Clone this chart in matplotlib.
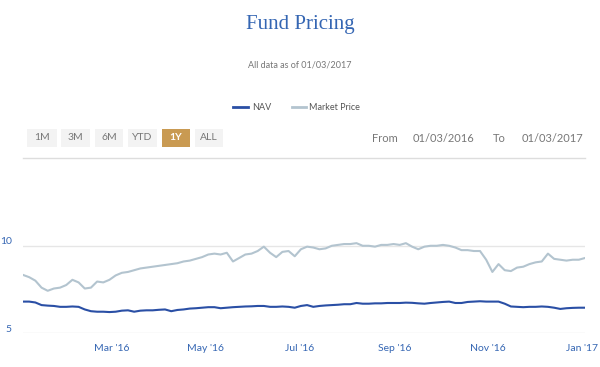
import pandas as pd
import matplotlib.pyplot as plt
import matplotlib.dates as mdates
from matplotlib.patches import Rectangle
from matplotlib.transforms import ScaledTranslation

# Prices, roughly every 4 days from 03/01/2016 to 03/01/2017
market_price = [8.33, 8.2, 8.0, 7.6, 7.42, 7.55, 7.6, 7.75, 8.05, 7.9,
                7.55, 7.6, 7.95, 7.9, 8.05, 8.3, 8.45, 8.5, 8.6, 8.7,
                8.75, 8.8, 8.85, 8.9, 8.95, 9.0, 9.1, 9.15, 9.25, 9.35,
                9.5, 9.55, 9.5, 9.6, 9.1, 9.3, 9.5, 9.55, 9.7, 9.95,
                9.6, 9.35, 9.65, 9.7, 9.4, 9.8, 9.95, 9.9, 9.8, 9.85,
                10.0, 10.05, 10.1, 10.1, 10.15, 10.0, 10.0, 9.95, 10.05, 10.05,
                10.1, 10.05, 10.15, 9.95, 9.8, 9.95, 10.0, 10.0, 10.05, 10.0,
                9.9, 9.75, 9.75, 9.7, 9.7, 9.2, 8.5, 8.95, 8.6, 8.55,
                8.75, 8.8, 8.95, 9.05, 9.1, 9.55, 9.25, 9.2, 9.15, 9.2,
                9.2, 9.3]
nav = [6.8, 6.8, 6.75, 6.6, 6.57, 6.55, 6.5, 6.5, 6.52, 6.5,
       6.35, 6.25, 6.22, 6.22, 6.2, 6.22, 6.28, 6.3, 6.22, 6.28,
       6.3, 6.3, 6.33, 6.35, 6.25, 6.32, 6.35, 6.4, 6.42, 6.45,
       6.48, 6.48, 6.42, 6.45, 6.48, 6.5, 6.52, 6.53, 6.55, 6.55,
       6.5, 6.5, 6.52, 6.5, 6.45, 6.55, 6.6, 6.5, 6.55, 6.58,
       6.6, 6.62, 6.65, 6.65, 6.72, 6.68, 6.68, 6.7, 6.7, 6.72,
       6.72, 6.72, 6.74, 6.73, 6.7, 6.68, 6.72, 6.75, 6.78, 6.8,
       6.72, 6.72, 6.78, 6.8, 6.82, 6.8, 6.8, 6.8, 6.68, 6.52,
       6.5, 6.48, 6.5, 6.5, 6.52, 6.5, 6.45, 6.38, 6.42, 6.44,
       6.45, 6.45]
dates = pd.date_range("2016-01-03", "2017-01-03", periods=len(nav))

buttons = ["1M", "3M", "6M", "YTD", "1Y", "ALL"]
active_button = "1Y"

nav_color = "#2a4fa5"
mp_color = "#b3c4cf"
blue_text = "#3566b3"
gray_text = "#777777"

fig = plt.figure(figsize=(6, 3.67), dpi=100)
W, H = 600, 367

def fx(px):
    return px / W

def fy(py):
    return 1 - py / H

# header
fig.text(0.5, fy(24), "Fund Pricing", ha="center", va="center",
         family="Liberation Serif", fontsize=15, color=blue_text)
fig.text(0.5, fy(65), "All data as of 01/03/2017", ha="center", va="center",
         family="Lato", fontsize=6.5, color=gray_text)

# legend
fig.add_artist(plt.Line2D([fx(233), fx(248)], [fy(107), fy(107)], color=nav_color, lw=2))
fig.text(fx(252), fy(107), "NAV", ha="left", va="center", family="Lato", fontsize=6.5, color="#555555")
fig.add_artist(plt.Line2D([fx(292), fx(306)], [fy(107), fy(107)], color=mp_color, lw=2))
fig.text(fx(309), fy(107), "Market Price", ha="left", va="center", family="Lato", fontsize=6.5, color="#555555")

# range selector buttons
btn_x = [27, 61, 95, 128, 162, 195]
btn_w = [30, 29, 28, 29, 28, 28]
for label, bx, bw in zip(buttons, btn_x, btn_w):
    active = label == active_button
    fig.add_artist(Rectangle((fx(bx), fy(147)), fx(bw), (147 - 129) / H,
                             transform=fig.transFigure,
                             facecolor="#c99a52" if active else "#f3f3f3",
                             edgecolor="none"))
    fig.text(fx(bx + bw / 2), fy(138), label, ha="center", va="center",
             family="Lato", fontsize=7.5, fontweight="bold" if active else "normal",
             color="white" if active else "#777777")

for txt, x0 in [("From", 372), ("01/03/2016", 413), ("To", 493), ("01/03/2017", 522)]:
    fig.text(fx(x0), fy(138), txt, ha="left", va="center", family="Lato",
             fontsize=8, color="#777777")

fig.add_artist(plt.Line2D([fx(23), fx(585)], [fy(158), fy(158)], color="#dddddd", lw=1))

# chart
ax = fig.add_axes([fx(23), fy(333), fx(585 - 23), (333 - 176) / H])
ax.plot(dates, market_price, color=mp_color, lw=1.5, zorder=3)
ax.plot(dates, nav, color=nav_color, lw=1.5, zorder=3)

ax.set_xlim(pd.Timestamp("2016-01-03"), pd.Timestamp("2017-01-03"))
ax.set_ylim(5, 14)
ax.set_yticks([5, 10])
ax.grid(axis="y", color="#e6e6e6", lw=1)
ax.xaxis.set_major_locator(mdates.MonthLocator(bymonth=[1, 3, 5, 7, 9, 11]))
ax.xaxis.set_major_formatter(mdates.DateFormatter("%b '%y"))
for s in ax.spines.values():
    s.set_visible(False)
ax.tick_params(axis="x", length=0, pad=8, labelsize=7.5, labelcolor=blue_text)
ax.tick_params(axis="y", length=0, pad=8, labelsize=7.5, labelcolor=blue_text)
for lbl in ax.get_xticklabels() + ax.get_yticklabels():
    lbl.set_family("Lato")
for lbl in ax.get_yticklabels():
    lbl.set_transform(lbl.get_transform() + ScaledTranslation(0, 0.05, fig.dpi_scale_trans))

fig.savefig("out.png", dpi=100)
